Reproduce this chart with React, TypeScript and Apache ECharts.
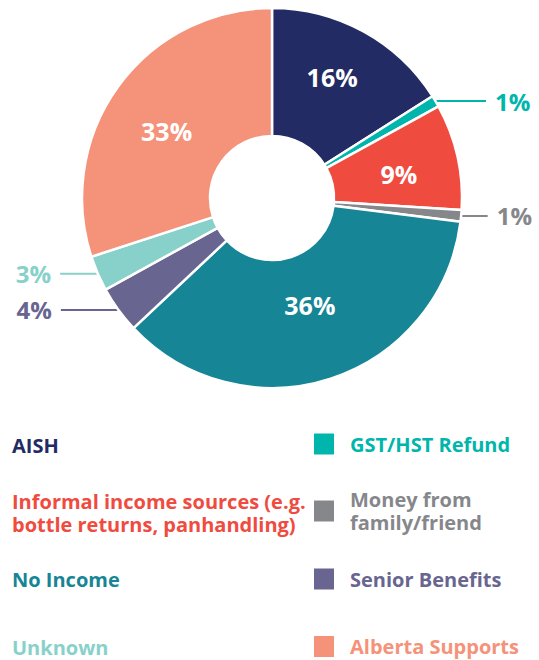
import React, { useEffect, useRef } from "react";
import * as echarts from "echarts";

// ---- Data ----
const categories = [
  "AISH",
  "GST/HST Refund",
  "Informal income sources (e.g. bottle returns, panhandling)",
  "Money from family/friend",
  "No Income",
  "Senior Benefits",
  "Unknown",
  "Alberta Supports",
];
// slice sizes as drawn
const values = [16, 1, 9, 1, 36, 4, 3, 30];
// percentage labels as printed on the chart
const percentLabels = ["16%", "1%", "9%", "1%", "36%", "4%", "3%", "33%"];
const legendLabels = [
  "AISH",
  "GST/HST Refund",
  "Informal income sources (e.g.\nbottle returns, panhandling)",
  "Money from\nfamily/friend",
  "No Income",
  "Senior Benefits",
  "Unknown",
  "Alberta Supports",
];

const COLORS = [
  "#232B65",
  "#00B6AC",
  "#EF4B3F",
  "#86878B",
  "#168595",
  "#686590",
  "#88D1CA",
  "#F5927A",
];

const FONT = "'Open Sans', 'Noto Sans', sans-serif";

// label style per slice: inside (white, with a small nudge) or outside with a horizontal leader line
const LABEL_STYLE: Array<{ inside: boolean; lead?: number; dx?: number; dy?: number }> = [
  { inside: true, dx: -2, dy: -8 },
  { inside: false, lead: 50 },
  { inside: true, dx: 1, dy: 4 },
  { inside: false, lead: 26 },
  { inside: true, dx: -2, dy: -16 },
  { inside: false, lead: 57 },
  { inside: false, lead: 37 },
  { inside: true, dx: -1, dy: 9 },
];

const LINE_H = 23;
// legend layout: [left, top, showIcon]
const LEGEND_POS: Array<[number, number, boolean]> = [
  [7, 445 - LINE_H / 2, false],
  [312, 431.5, true],
  [7, 513 - LINE_H, false],
  [312, 511 - LINE_H, true],
  [7, 579 - LINE_H / 2, false],
  [312, 566.5, true],
  [7, 647 - LINE_H / 2, false],
  [312, 634, true],
];

function buildOption() {
  const data = categories.map((name, i) => {
    const st = LABEL_STYLE[i];
    const item: any = {
      name,
      value: values[i],
      itemStyle: { color: COLORS[i] },
    };
    if (st.inside) {
      item.label = {
        show: true,
        position: "inside",
        color: "#ffffff",
        fontSize: 25,
        fontWeight: "bold",
        fontFamily: FONT,
        formatter: () => percentLabels[i],
      };
      item.labelLine = { show: false };
    } else {
      item.label = {
        show: true,
        position: "outside",
        color: COLORS[i],
        fontSize: 24,
        fontWeight: "bold",
        fontFamily: FONT,
        distanceToLabelLine: 9,
        formatter: () => percentLabels[i],
      };
      item.labelLine = {
        show: true,
        length: 0.5,
        length2: st.lead,
        smooth: false,
        lineStyle: { color: COLORS[i], width: 2 },
      };
    }
    return item;
  });

  const legends = categories.map((name, i) => {
    const [left, top, showIcon] = LEGEND_POS[i];
    return {
      show: true,
      orient: "vertical",
      left,
      top,
      padding: 0,
      itemGap: 0,
      itemWidth: showIcon ? 22 : 0,
      itemHeight: showIcon ? 23 : LINE_H,
      icon: showIcon ? "rect" : "none",
      selectedMode: false,
      data: [{ name, itemStyle: { color: COLORS[i] } }],
      formatter: (n: string) => legendLabels[categories.indexOf(n)],
      textStyle: {
        color: COLORS[i],
        fontSize: 20,
        fontWeight: "bold",
        fontFamily: FONT,
        lineHeight: LINE_H,
        padding: showIcon ? [0, 0, 0, 10] : 0,
      },
    };
  });

  return {
    animation: false,
    backgroundColor: "#ffffff",
    legend: legends,
    series: [
      {
        type: "pie",
        center: [272, 198],
        radius: [62, 190],
        startAngle: 90,
        clockwise: true,
        avoidLabelOverlap: false,
        silent: true,
        itemStyle: { borderColor: "#ffffff", borderWidth: 2.5 },
        labelLayout: (p: any) => {
          const st = LABEL_STYLE[p.dataIndex];
          if (!st || !st.inside) return {};
          return { dx: st.dx || 0, dy: st.dy || 0 };
        },
        data,
      },
    ],
  };
}

export default function App() {
  const ref = useRef<HTMLDivElement>(null);
  useEffect(() => {
    if (!ref.current) return;
    const chart = echarts.init(ref.current, null, { renderer: "svg" });
    chart.setOption(buildOption() as any);
    return () => chart.dispose();
  }, []);
  return (
    <div
      ref={ref}
      style={{ position: "absolute", left: 0, top: 0, width: 539, height: 660 }}
    />
  );
}
